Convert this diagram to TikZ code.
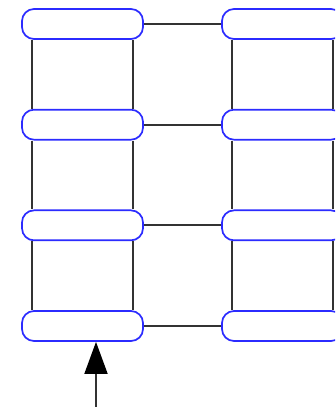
\documentclass[tikz,border=0pt]{standalone}
\usetikzlibrary{arrows.meta, positioning}
\definecolor{cblue}{HTML}{2B2BFF}
\definecolor{cdark}{HTML}{333333}
\tikzset{
  every picture/.style={line width=1.7pt},
  pad/.style={draw=cblue, fill=white, rounded corners=12pt, minimum width=121pt, minimum height=30pt, inner sep=0pt},
  wire/.style={draw=cdark},
  feed/.style={-{Triangle[length=32pt, width=23pt, color=black]}, draw=cdark},
}

\begin{document}
\begin{tikzpicture}[x=1pt, y=-1pt]
  \useasboundingbox (0,0) rectangle (335,407);
  \clip (0,0) rectangle (335,407);
  % two columns of pads, four rows
  \foreach \i in {1,...,4} {
    \node[pad] (L\i) at (82.5, {24+100.67*(\i-1)}) {};
    \node[pad] (R\i) at (282.5, {24+100.67*(\i-1)}) {};
    \draw[wire] (L\i.east) -- (R\i.west);
  }
  % uprights between rows
  \foreach \i/\j in {1/2, 2/3, 3/4} {
    \draw[wire] ([xshift=11pt]L\i.south west) -- ([xshift=11pt]L\j.north west);
    \draw[wire] ([xshift=-11pt]L\i.south east) -- ([xshift=-11pt]L\j.north east);
    \draw[wire] ([xshift=11pt]R\i.south west) -- ([xshift=11pt]R\j.north west);
    \draw[wire] ([xshift=-11pt]R\i.south east) -- ([xshift=-11pt]R\j.north east);
  }
  % feed arrow
  \coordinate (src) at (96,407);
  \draw[feed] (src) -- (src |- L4.south);
\end{tikzpicture}
\end{document}
